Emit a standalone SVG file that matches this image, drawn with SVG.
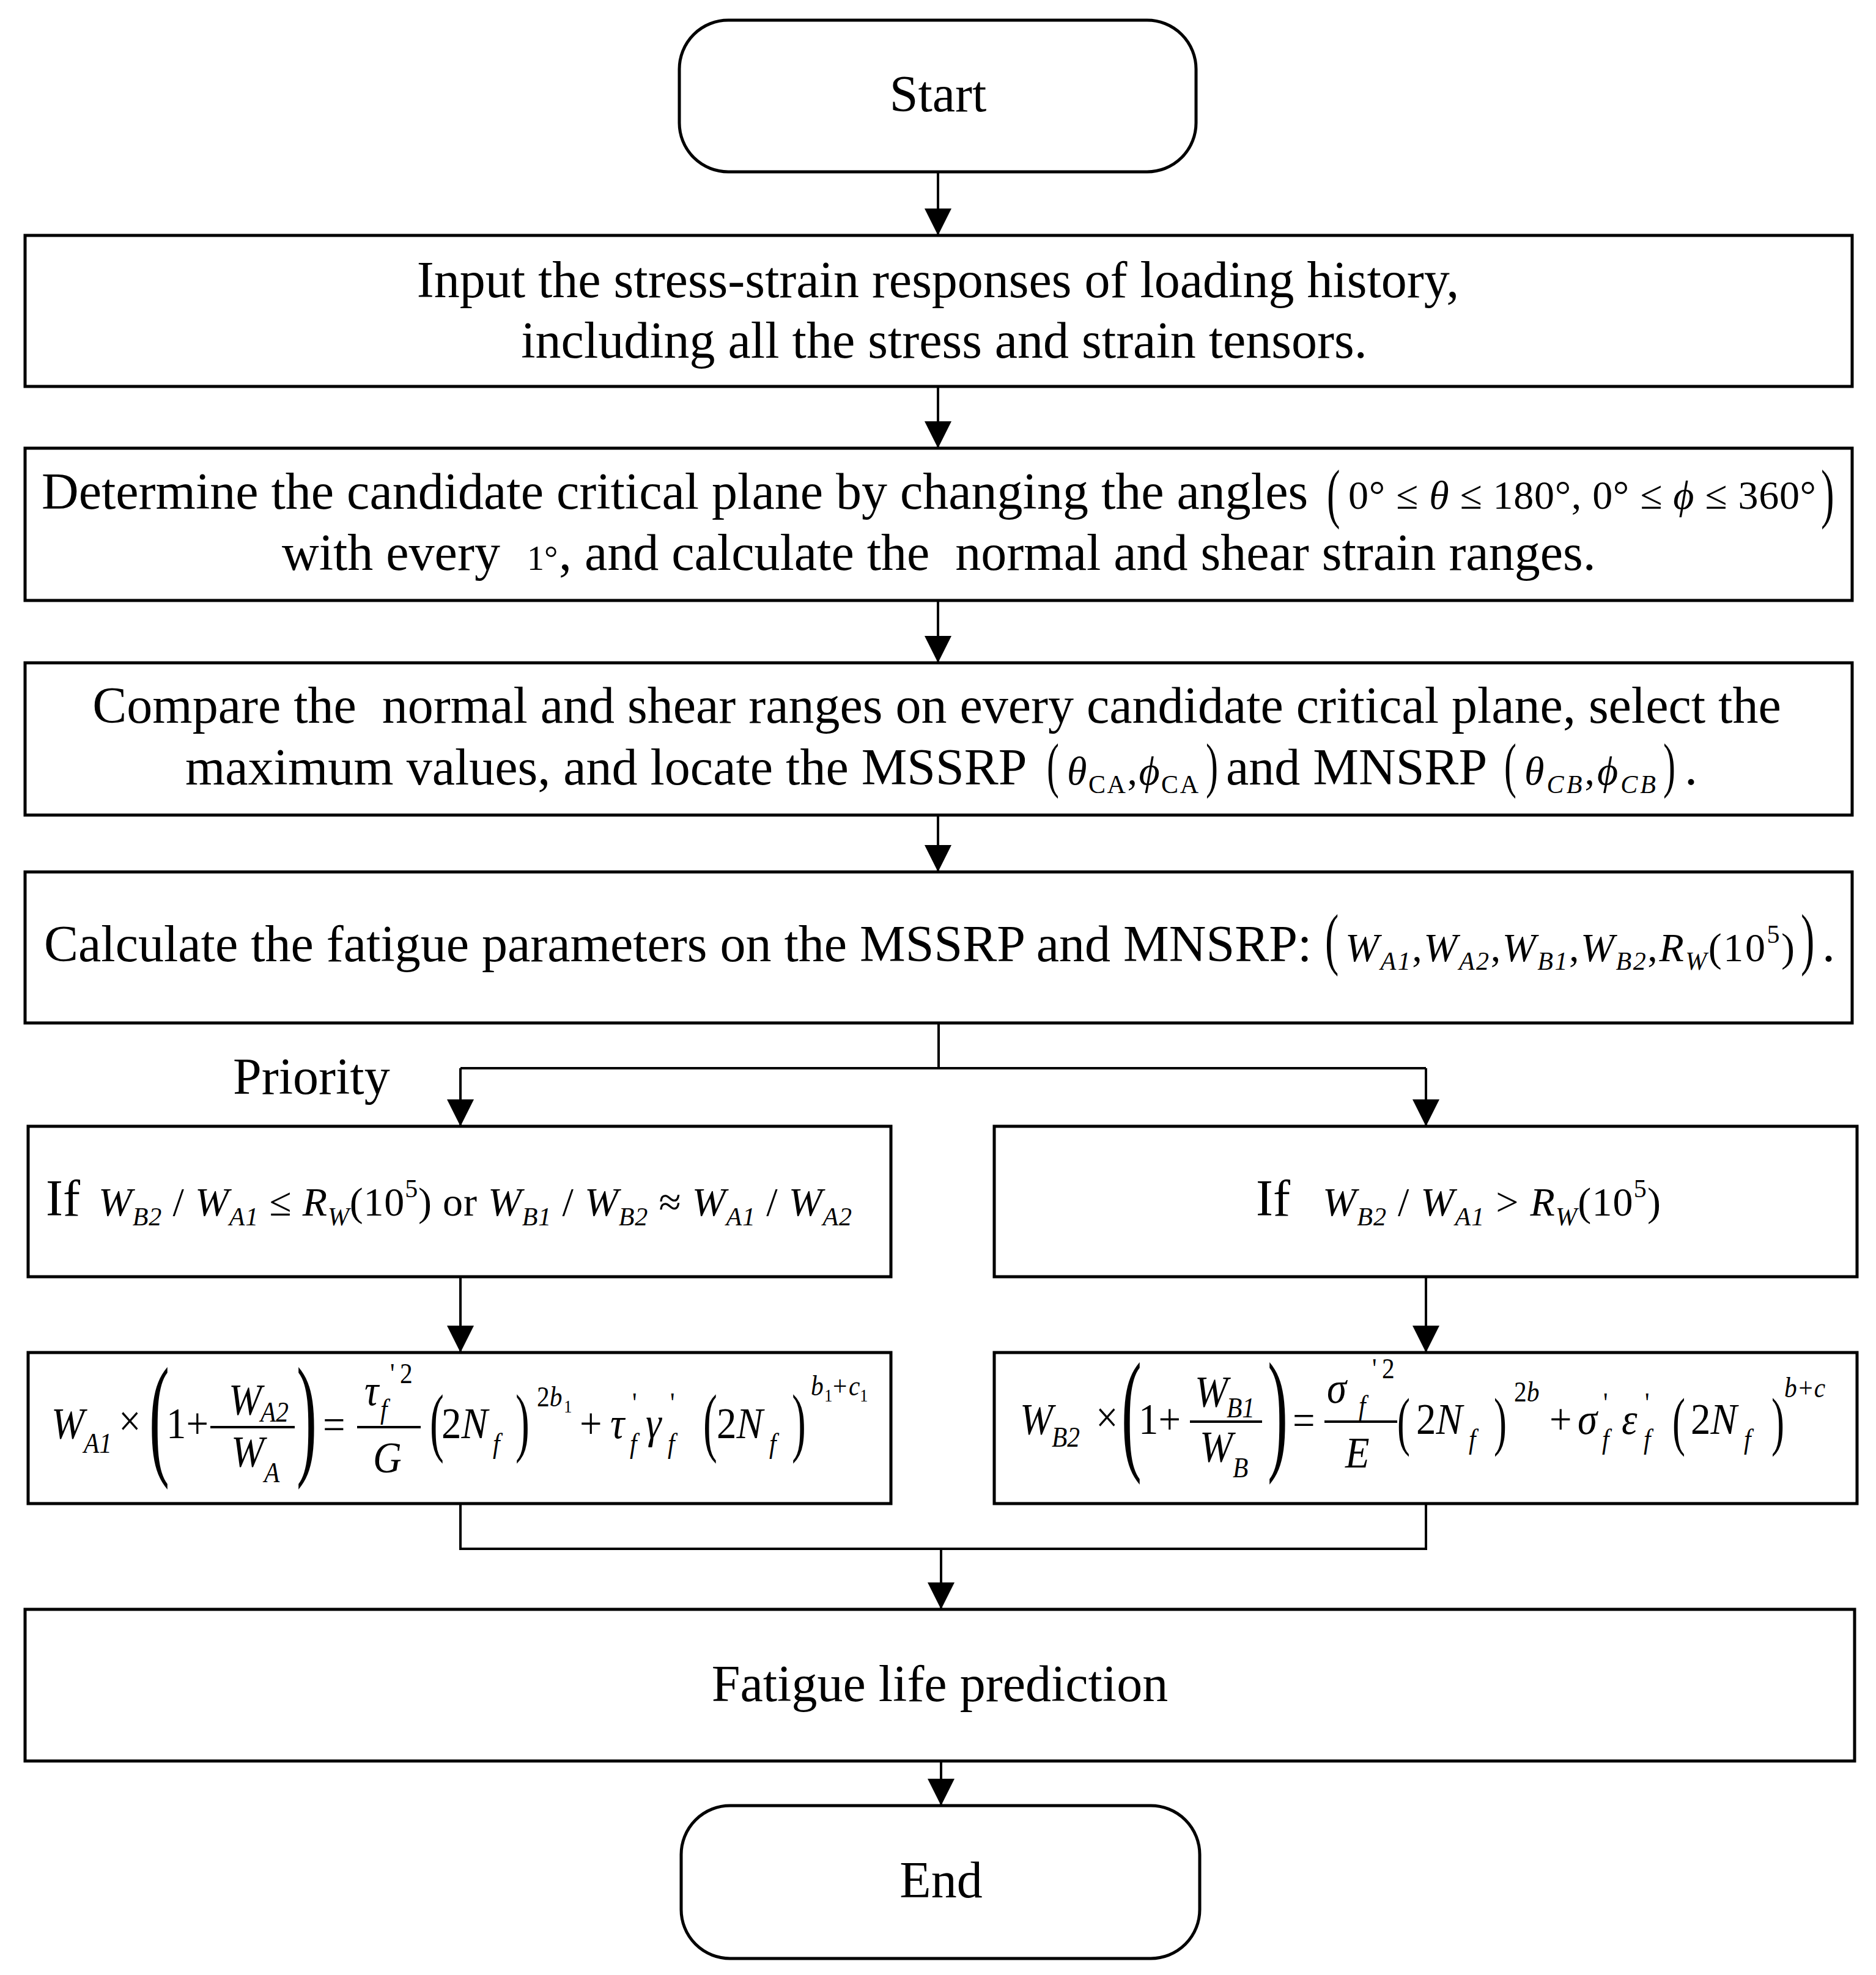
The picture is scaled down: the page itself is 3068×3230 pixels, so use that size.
<svg xmlns="http://www.w3.org/2000/svg" width="3068" height="3230" viewBox="0 0 3068 3230">
<defs>
<style>
.box{fill:#fff;stroke:#000;stroke-width:5}
.ln{fill:none;stroke:#000;stroke-width:4}
.bar{stroke:#000;stroke-width:4}
.t{font-family:"Liberation Serif","Times New Roman",serif;font-size:84px;fill:#000}
.m{font-size:66px}
.s{font-size:42px}
.ss{font-size:30px}
.fm{font-size:72px}
.fs{font-size:46px}
.i{font-style:italic}
.c{text-anchor:middle}
</style>
<marker id="ah" markerUnits="userSpaceOnUse" markerWidth="46" markerHeight="46" refX="44" refY="22" orient="auto" viewBox="0 0 46 46"><path d="M0,0 L44,22 L0,44 z" fill="#000"/></marker>
</defs>
<rect width="3068" height="3230" fill="#fff"/>

<g id="connectors">
<path class="ln" d="M1534,281 V385" marker-end="url(#ah)"/>
<path class="ln" d="M1534,632 V733" marker-end="url(#ah)"/>
<path class="ln" d="M1534,982 V1084" marker-end="url(#ah)"/>
<path class="ln" d="M1534,1333 V1426" marker-end="url(#ah)"/>
<path class="ln" d="M1535,1673 V1747"/>
<path class="ln" d="M753,1747 H2332"/>
<path class="ln" d="M753,1747 V1842" marker-end="url(#ah)"/>
<path class="ln" d="M2332,1747 V1842" marker-end="url(#ah)"/>
<path class="ln" d="M753,2088 V2212" marker-end="url(#ah)"/>
<path class="ln" d="M2332,2088 V2212" marker-end="url(#ah)"/>
<path class="ln" d="M753,2459 V2533 H2332 V2459"/>
<path class="ln" d="M1539,2533 V2632" marker-end="url(#ah)"/>
<path class="ln" d="M1539,2880 V2953" marker-end="url(#ah)"/>
</g>

<g id="start">
<rect class="box" x="1111" y="33" width="845" height="248" rx="80" ry="80"/>
<text class="t c" x="1534" y="182">Start</text>
</g>

<g id="input">
<rect class="box" x="41" y="385" width="2988" height="247"/>
<text class="t c" x="1534" y="486">Input the stress-strain responses of loading history,</text>
<text class="t c" x="1544" y="585">including all the stress and strain tensors.</text>
</g>

<g id="determine">
<rect class="box" x="41" y="733" width="2988" height="249"/>
<text class="t" x="68" y="832">Determine the candidate critical plane by changing the angles</text>
<text class="t" style="font-size:108px" transform="translate(2170,843) scale(0.6,1)">(</text>
<text class="t m" x="2205" y="832" textLength="765" lengthAdjust="spacing">0° ≤ <tspan class="i">θ</tspan> ≤ 180°, 0° ≤ <tspan class="i">ϕ</tspan> ≤ 360°</text>
<text class="t" style="font-size:108px" transform="translate(2978,843) scale(0.6,1)">)</text>
<text class="t" x="461" y="932">with every</text>
<text class="t" style="font-size:56px" x="862" y="932">1°</text>
<text class="t" x="914" y="932" xml:space="preserve">, and calculate the  normal and shear strain ranges.</text>
</g>

<g id="compare">
<rect class="box" x="41" y="1084" width="2988" height="249"/>
<text class="t c" x="1532" y="1182" xml:space="preserve">Compare the  normal and shear ranges on every candidate critical plane, select the</text>
<text class="t" x="303" y="1283">maximum values, and locate the MSSRP</text>
<text class="t" style="font-size:100px" transform="translate(1712,1285) scale(0.6,1)">(</text>
<text class="t m" x="1745" y="1283" textLength="215" lengthAdjust="spacing"><tspan class="i">θ</tspan><tspan class="s" dy="14">CA</tspan><tspan dy="-14">,</tspan><tspan class="i">ϕ</tspan><tspan class="s" dy="14">CA</tspan></text>
<text class="t" style="font-size:100px" transform="translate(1972,1285) scale(0.6,1)">)</text>
<text class="t" x="2005" y="1283">and MNSRP</text>
<text class="t" style="font-size:100px" transform="translate(2460,1285) scale(0.6,1)">(</text>
<text class="t m" x="2493" y="1283" textLength="215" lengthAdjust="spacing"><tspan class="i">θ</tspan><tspan class="s i" dy="14">CB</tspan><tspan dy="-14">,</tspan><tspan class="i">ϕ</tspan><tspan class="s i" dy="14">CB</tspan></text>
<text class="t" style="font-size:100px" transform="translate(2720,1285) scale(0.6,1)">)</text>
<text class="t" x="2755" y="1283">.</text>
</g>

<g id="calculate">
<rect class="box" x="41" y="1426" width="2988" height="247"/>
<text class="t" x="72" y="1572">Calculate the fatigue parameters on the MSSRP and MNSRP:</text>
<text class="t" style="font-size:112px" transform="translate(2167,1573) scale(0.6,1)">(</text>
<text class="t m" x="2200" y="1572" textLength="735" lengthAdjust="spacing"><tspan class="i">W</tspan><tspan class="s i" dy="14">A1</tspan><tspan dy="-14">,</tspan><tspan class="i">W</tspan><tspan class="s i" dy="14">A2</tspan><tspan dy="-14">,</tspan><tspan class="i">W</tspan><tspan class="s i" dy="14">B1</tspan><tspan dy="-14">,</tspan><tspan class="i">W</tspan><tspan class="s i" dy="14">B2</tspan><tspan dy="-14">,</tspan><tspan class="i">R</tspan><tspan class="s i" dy="14">W</tspan><tspan dy="-14">(10</tspan><tspan class="s" dy="-30">5</tspan><tspan dy="30">)</tspan></text>
<text class="t" style="font-size:112px" transform="translate(2945,1573) scale(0.6,1)">)</text>
<text class="t" x="2980" y="1572">.</text>
</g>

<text class="t" x="381" y="1789">Priority</text>

<g id="cond-left">
<rect class="box" x="46" y="1842" width="1411" height="246"/>
<text class="t" x="75" y="1988">If</text>
<text class="t m" x="161" y="1988" textLength="1232" lengthAdjust="spacing"><tspan class="i">W</tspan><tspan class="s i" dy="16">B2</tspan><tspan dy="-16"> / </tspan><tspan class="i">W</tspan><tspan class="s i" dy="16">A1</tspan><tspan dy="-16"> ≤ </tspan><tspan class="i">R</tspan><tspan class="s i" dy="16">W</tspan><tspan dy="-16">(10</tspan><tspan class="s" dy="-30">5</tspan><tspan dy="30">) or </tspan><tspan class="i">W</tspan><tspan class="s i" dy="16">B1</tspan><tspan dy="-16"> / </tspan><tspan class="i">W</tspan><tspan class="s i" dy="16">B2</tspan><tspan dy="-16"> ≈ </tspan><tspan class="i">W</tspan><tspan class="s i" dy="16">A1</tspan><tspan dy="-16"> / </tspan><tspan class="i">W</tspan><tspan class="s i" dy="16">A2</tspan></text>
</g>

<g id="cond-right">
<rect class="box" x="1626" y="1842" width="1411" height="246"/>
<text class="t" x="2054" y="1988">If</text>
<text class="t m" x="2163" y="1988" textLength="553" lengthAdjust="spacing"><tspan class="i">W</tspan><tspan class="s i" dy="16">B2</tspan><tspan dy="-16"> / </tspan><tspan class="i">W</tspan><tspan class="s i" dy="16">A1</tspan><tspan dy="-16"> &gt; </tspan><tspan class="i">R</tspan><tspan class="s i" dy="16">W</tspan><tspan dy="-16">(10</tspan><tspan class="s" dy="-30">5</tspan><tspan dy="30">)</tspan></text>
</g>

<g id="formula-left">
<rect class="box" x="46" y="2212" width="1411" height="247"/>
<text class="t fm i" transform="translate(84,2352) scale(0.9,1)">W</text>
<text class="t fs i" transform="translate(137,2376) scale(0.9,1)">A1</text>
<text class="t fm" transform="translate(194,2348) scale(0.9,1)">×</text>
<text class="t" style="font-size:220px" transform="translate(244,2389) scale(0.45,1)">(</text>
<text class="t fm" transform="translate(272,2352) scale(0.9,1)">1+</text>
<line class="bar" x1="344" y1="2334" x2="482" y2="2334"/>
<text class="t fm i" transform="translate(374,2313) scale(0.9,1)">W</text>
<text class="t fs i" transform="translate(426,2325) scale(0.9,1)">A2</text>
<text class="t fm i" transform="translate(378,2398) scale(0.9,1)">W</text>
<text class="t fs i" transform="translate(432,2424) scale(0.9,1)">A</text>
<text class="t" style="font-size:220px" transform="translate(485,2389) scale(0.45,1)">)</text>
<text class="t fm" transform="translate(528,2354) scale(0.9,1)">=</text>
<line class="bar" x1="584" y1="2334" x2="688" y2="2334"/>
<text class="t fm i" transform="translate(596,2298) scale(0.9,1)">τ</text>
<text class="t fs" transform="translate(638,2262) scale(0.9,1)">'</text>
<text class="t fs" transform="translate(654,2262) scale(0.9,1)">2</text>
<text class="t fs i" transform="translate(622,2320) scale(0.9,1)">f</text>
<text class="t fm i" transform="translate(610,2408) scale(0.9,1)">G</text>
<text class="t" style="font-size:125px" transform="translate(703,2367) scale(0.55,1)">(</text>
<text class="t fm" transform="translate(722,2352) scale(0.9,1)">2<tspan class="i">N</tspan></text>
<text class="t fs i" transform="translate(806,2376) scale(0.9,1)">f</text>
<text class="t" style="font-size:125px" transform="translate(843,2367) scale(0.55,1)">)</text>
<text class="t fs" transform="translate(878,2300) scale(0.9,1)">2<tspan class="i">b</tspan></text>
<text class="t ss" transform="translate(922,2310) scale(0.9,1)">1</text>
<text class="t fm" transform="translate(948,2352) scale(0.9,1)">+</text>
<text class="t fm i" transform="translate(998,2352) scale(0.9,1)">τ</text>
<text class="t fs" transform="translate(1034,2310) scale(0.9,1)">'</text>
<text class="t fs i" transform="translate(1030,2376) scale(0.9,1)">f</text>
<text class="t fm i" transform="translate(1056,2352) scale(0.9,1)">γ</text>
<text class="t fs" transform="translate(1096,2310) scale(0.9,1)">'</text>
<text class="t fs i" transform="translate(1092,2376) scale(0.9,1)">f</text>
<text class="t" style="font-size:125px" transform="translate(1150,2367) scale(0.55,1)">(</text>
<text class="t fm" transform="translate(1172,2352) scale(0.9,1)">2<tspan class="i">N</tspan></text>
<text class="t fs i" transform="translate(1258,2376) scale(0.9,1)">f</text>
<text class="t" style="font-size:125px" transform="translate(1295,2367) scale(0.55,1)">)</text>
<text class="t fs i" transform="translate(1326,2282) scale(0.9,1)">b</text>
<text class="t ss" transform="translate(1348,2292) scale(0.9,1)">1</text>
<text class="t fs" transform="translate(1362,2282) scale(0.9,1)">+</text>
<text class="t fs i" transform="translate(1388,2282) scale(0.9,1)">c</text>
<text class="t ss" transform="translate(1406,2292) scale(0.9,1)">1</text>
</g>

<g id="formula-right">
<rect class="box" x="1626" y="2212" width="1411" height="247"/>
<text class="t fm i" transform="translate(1668,2345) scale(0.9,1)">W</text>
<text class="t fs i" transform="translate(1720,2366) scale(0.9,1)">B2</text>
<text class="t fm" transform="translate(1792,2342) scale(0.9,1)">×</text>
<text class="t" style="font-size:220px" transform="translate(1834,2381) scale(0.45,1)">(</text>
<text class="t fm" transform="translate(1862,2345) scale(0.9,1)">1+</text>
<line class="bar" x1="1946" y1="2325" x2="2064" y2="2325"/>
<text class="t fm i" transform="translate(1954,2300) scale(0.9,1)">W</text>
<text class="t fs i" transform="translate(2006,2318) scale(0.9,1)">B1</text>
<text class="t fm i" transform="translate(1962,2390) scale(0.9,1)">W</text>
<text class="t fs i" transform="translate(2016,2416) scale(0.9,1)">B</text>
<text class="t" style="font-size:220px" transform="translate(2073,2381) scale(0.45,1)">)</text>
<text class="t fm" transform="translate(2114,2347) scale(0.9,1)">=</text>
<line class="bar" x1="2166" y1="2325" x2="2285" y2="2325"/>
<text class="t fm i" transform="translate(2170,2294) scale(0.9,1)">σ</text>
<text class="t fs" transform="translate(2244,2254) scale(0.9,1)">'</text>
<text class="t fs" transform="translate(2260,2254) scale(0.9,1)">2</text>
<text class="t fs i" transform="translate(2222,2314) scale(0.9,1)">f</text>
<text class="t fm i" transform="translate(2200,2400) scale(0.9,1)">E</text>
<text class="t" style="font-size:105px" transform="translate(2285,2360) scale(0.6,1)">(</text>
<text class="t fm" transform="translate(2316,2345) scale(0.9,1)">2<tspan class="i">N</tspan></text>
<text class="t fs i" transform="translate(2402,2369) scale(0.9,1)">f</text>
<text class="t" style="font-size:105px" transform="translate(2443,2360) scale(0.6,1)">)</text>
<text class="t fs" transform="translate(2476,2292) scale(0.9,1)">2<tspan class="i">b</tspan></text>
<text class="t fm" transform="translate(2534,2345) scale(0.9,1)">+</text>
<text class="t fm i" transform="translate(2580,2345) scale(0.9,1)">σ</text>
<text class="t fs" transform="translate(2622,2310) scale(0.9,1)">'</text>
<text class="t fs i" transform="translate(2620,2369) scale(0.9,1)">f</text>
<text class="t fm i" transform="translate(2652,2345) scale(0.9,1)">ε</text>
<text class="t fs" transform="translate(2690,2310) scale(0.9,1)">'</text>
<text class="t fs i" transform="translate(2688,2369) scale(0.9,1)">f</text>
<text class="t" style="font-size:105px" transform="translate(2735,2360) scale(0.6,1)">(</text>
<text class="t fm" transform="translate(2765,2345) scale(0.9,1)">2<tspan class="i">N</tspan></text>
<text class="t fs i" transform="translate(2852,2369) scale(0.9,1)">f</text>
<text class="t" style="font-size:105px" transform="translate(2897,2360) scale(0.6,1)">)</text>
<text class="t fs i" transform="translate(2918,2285) scale(0.9,1)">b+c</text>
</g>

<g id="prediction">
<rect class="box" x="41" y="2632" width="2992" height="248"/>
<text class="t c" x="1537" y="2782">Fatigue life prediction</text>
</g>

<g id="end">
<rect class="box" x="1114" y="2953" width="848" height="250" rx="80" ry="80"/>
<text class="t c" x="1539" y="3103">End</text>
</g>
</svg>
